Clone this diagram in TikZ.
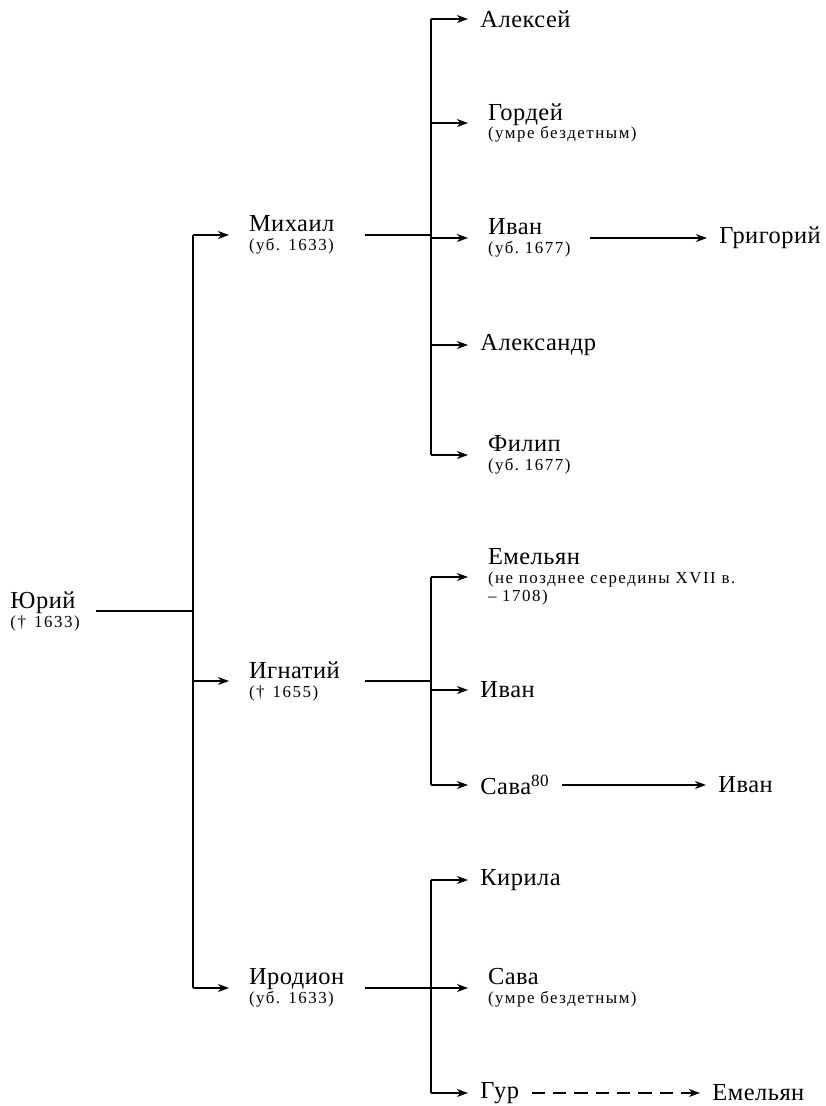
\documentclass[tikz,border=0pt]{standalone}
\usepackage{fontspec}
\setmainfont{Liberation Serif}[Scale = 1.1, LetterSpace = 2]
\newfontfamily\datesfont{Liberation Serif}[LetterSpace = 9]
\usepackage{tikz}
\usetikzlibrary{arrows, arrows.meta}

\newcommand{\datesline}[1]{\mbox{\datesfont\fontsize{7.6}{9}\selectfont\frenchspacing #1}}
\newcommand{\dates}[1]{\\[-3.5pt]\datesline{#1}}

\tikzset{
  person/.style = {anchor = west, align = left, inner xsep = 5.4pt, inner ysep = 0pt},
  dated/.style = {person, inner xsep = 8.8pt},
  senior/.style = {dated, text width = 43pt},
  trunk/.style = {line width = 1.1pt},
  child/.style = {line width = 0.7pt, -{Stealth[length = 5pt, width = 3.6pt, inset = 1.6pt]}},
  lost/.style = {dash pattern = on 6pt off 3.6pt}
}

\begin{document}
\begin{tikzpicture}[x = 0.45pt, y = -0.45pt]

\useasboundingbox (0,0) rectangle (826,1106);

\node[dated, text width = 29.5pt] (Yu) at (-9.5,611) {Юрий\dates{(† 1633)}};

\node[senior] (Mi) at (229,235) {Михаил\dates{(уб. 1633)}};
\node[senior] (Ig) at (229,681) {Игнатий\dates{(† 1655)}};
\node[senior] (Ir) at (229,988) {Иродион\dates{(уб. 1633)}};

\coordinate (J) at (193,611);
\coordinate (Jm) at (431,235);
\coordinate (Ji) at (431,681);
\coordinate (Jr) at (431,988);

\draw[trunk] (Yu.east) -- (J |- Yu.east);
\draw[trunk] (J |- Mi.west) -- (J |- Ir.west);
\foreach \n in {Mi,Ig,Ir}
  \draw[child] (J |- \n.west) -- (\n.west);

% Mikhail
\node[person] (Al) at (468,19) {Алексей};
\node[dated] (Go) at (468,123) {Гордей\dates{(умре бездетным)}};
\node[dated] (Iv) at (468,238) {Иван\dates{(уб. 1677)}};
\node[person] (As) at (468,345) {Александр};
\node[dated] (Fi) at (468,455) {Филип\dates{(уб. 1677)}};
\node[person] (Gr) at (707,238) {Григорий};

\draw[trunk] (Mi.east) -- (Jm |- Mi.east);
\draw[trunk] (Jm |- Al.west) -- (Jm |- Fi.west);
\foreach \n in {Al,Go,Iv,As,Fi}
  \draw[child] (Jm |- \n.west) -- (\n.west);
\draw[child] (Iv.east) -- (Gr.west);

% Ignatiy
\node[dated] (Em) at (468,577) {Емельян\dates{(не позднее середины XVII в.}\\[-4pt]\datesline{– 1708)}};
\node[person] (Iw) at (468,690) {Иван};
\node[person] (Sa) at (468,785) {Сава\textsuperscript{80}};
\node[person] (Ix) at (706,785) {Иван};

\draw[trunk] (Ig.east) -- (Ji |- Ig.east);
\draw[trunk] (Ji |- Em.west) -- (Ji |- Sa.west);
\foreach \n in {Em,Iw,Sa}
  \draw[child] (Ji |- \n.west) -- (\n.west);
\draw[child] (Sa.east) -- (Ix.west);

% Irodion
\node[person] (Ki) at (468,880) {Кирила};
\node[dated] (Sb) at (468,988) {Сава\dates{(умре бездетным)}};
\node[person] (Gu) at (468,1093) {Гур};
\node[person] (Ey) at (700,1093) {Емельян};

\draw[trunk] (Ir.east) -- (Jr |- Ir.east);
\draw[trunk] (Jr |- Ki.west) -- (Jr |- Gu.west);
\foreach \n in {Ki,Sb,Gu}
  \draw[child] (Jr |- \n.west) -- (\n.west);
\draw[child, lost] (Gu.east) -- (Ey.west);

\end{tikzpicture}
\end{document}
